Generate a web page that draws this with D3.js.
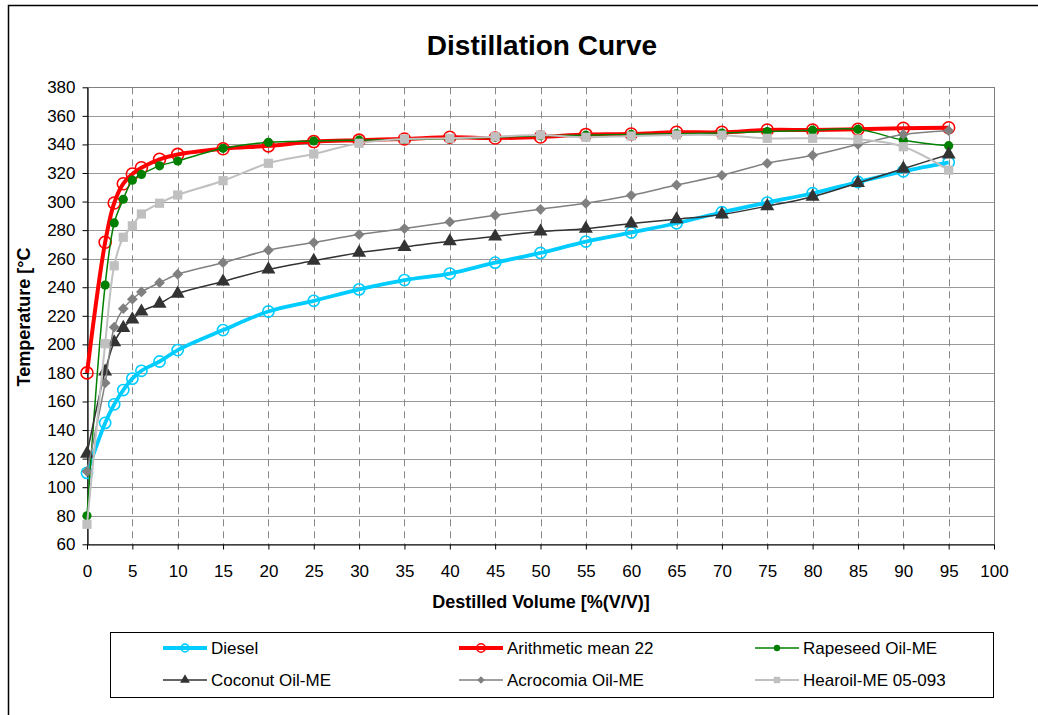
<!DOCTYPE html>
<html>
<head>
<meta charset="utf-8">
<script src="https://cdn.jsdelivr.net/npm/d3@7"></script>
<style>
body { margin: 0; background: #fff; }
text { font-family: Arial, "Liberation Sans", sans-serif; fill: #000; }
</style>
</head>
<body>
<div id="chart"></div>
<script>
// Distilled volume (x values, % V/V)
var volume = [0, 2, 3, 4, 5, 6, 8, 10, 15, 20, 25, 30, 35, 40, 45, 50, 55, 60, 65, 70, 75, 80, 85, 90, 95];

// Temperatures [°C] for each series
var diesel = [110, 145, 158, 168, 176, 181.5, 188, 196, 210, 223, 230.5, 238.5, 245, 249.6, 257.2, 264, 272, 278.3, 284.8, 292.5, 299.3, 305.8, 313.7, 321.2, 327.5];
var arithMean = [180, 271.5, 299, 312.5, 319.3, 323.7, 329.6, 333, 337, 339, 342, 343, 343.8, 345, 344.5, 345.2, 347, 347.3, 348.5, 348.5, 350.1, 350.1, 350.6, 351.3, 351.7];
var rapeseed = [80, 241.5, 285, 301.6, 315, 319, 325, 328.4, 337.3, 341.5, 342.4, 343, 343.5, 344, 345, 346, 346.5, 347, 347.5, 348, 349, 350, 350.6, 343, 339.1];
var coconut = [123.5, 181, 201.5, 211.5, 217.5, 223, 228.5, 235.5, 244, 252.5, 258.5, 264.2, 268.2, 272.2, 275.5, 279, 281, 284.6, 287.6, 291, 296.8, 303.4, 313, 323, 333];
var acrocomia = [111, 173, 212, 225, 231.6, 236.7, 243.2, 249.1, 257.2, 265.9, 271.3, 276.9, 281.1, 285.7, 290.4, 294.6, 298.8, 304.4, 311.6, 318.4, 326.8, 332.4, 340, 347, 349.6];
var hearoil = [74, 200.5, 255, 275, 283, 291.3, 298.8, 304.6, 314.6, 326.8, 333.3, 340.8, 343.8, 344.3, 345.4, 346.6, 345, 345.9, 346.6, 346.5, 344.3, 344.3, 343.6, 338.4, 322];

var seriesNames = ["Diesel", "Arithmetic mean 22", "Rapeseed Oil-ME", "Coconut Oil-ME", "Acrocomia Oil-ME", "Hearoil-ME 05-093"];

// Tick values
var xTicks = [0, 5, 10, 15, 20, 25, 30, 35, 40, 45, 50, 55, 60, 65, 70, 75, 80, 85, 90, 95, 100];
var yTicks = [60, 80, 100, 120, 140, 160, 180, 200, 220, 240, 260, 280, 300, 320, 340, 360, 380];

// Size of the picture and of the plot area
var w = 1038;
var h = 715;
var plotLeft = 87, plotRight = 994, plotTop = 87.3, plotBottom = 544.3;

var x = d3.scaleLinear().domain([0, 100]).range([plotLeft, plotRight]);
var y = d3.scaleLinear().domain([60, 380]).range([plotBottom, plotTop]);

// Styles of each series (same order as seriesNames)
var series = [
  { values: diesel,    color: "#00ccff", width: 3.8, marker: "circle",   fill: "none",    size: 5.6 },
  { values: arithMean, color: "#ff0000", width: 4,   marker: "circle",   fill: "none",    size: 6 },
  { values: rapeseed,  color: "#008000", width: 1.5, marker: "dot",      fill: "#008000", size: 4.6 },
  { values: coconut,   color: "#333333", width: 1.5, marker: "triangle", fill: "#333333", size: 85 },
  { values: acrocomia, color: "#808080", width: 1.5, marker: "diamond",  fill: "#808080", size: 58 },
  { values: hearoil,   color: "#c0c0c0", width: 2,   marker: "square",   fill: "#c0c0c0", size: 85 }
];
series.forEach(function(s, i) { s.name = seriesNames[i]; });

var svg = d3.select("#chart").append("svg")
    .attr("width", w)
    .attr("height", h);

svg.append("rect").attr("width", w).attr("height", h).attr("fill", "#fff");

// Outer chart border (runs off the picture on the right and bottom)
svg.append("rect")
    .attr("x", 8.5).attr("y", 5.5)
    .attr("width", 1200).attr("height", 900)
    .attr("fill", "none")
    .attr("stroke", "#000")
    .attr("stroke-width", 1.5);

// Title
svg.append("text")
    .attr("x", 542).attr("y", 55)
    .attr("text-anchor", "middle")
    .style("font-size", "28px")
    .style("font-weight", "bold")
    .text("Distillation Curve");

// Horizontal gridlines (solid)
svg.append("g").selectAll("line")
    .data(yTicks.slice(1))
    .enter().append("line")
    .attr("x1", plotLeft).attr("x2", plotRight)
    .attr("y1", function(d) { return Math.round(y(d)) + 0.5; })
    .attr("y2", function(d) { return Math.round(y(d)) + 0.5; })
    .attr("stroke", "#999")
    .attr("stroke-width", 1);

// Vertical gridlines (dashed)
svg.append("g").selectAll("line")
    .data(xTicks.slice(1, -1))
    .enter().append("line")
    .attr("x1", function(d) { return Math.round(x(d)) + 0.5; })
    .attr("x2", function(d) { return Math.round(x(d)) + 0.5; })
    .attr("y1", plotTop).attr("y2", plotBottom)
    .attr("stroke", "#888")
    .attr("stroke-dasharray", "7,5")
    .attr("stroke-width", 1);

// Plot area border
svg.append("rect")
    .attr("x", plotLeft + 0.5).attr("y", Math.round(plotTop) + 0.5)
    .attr("width", plotRight - plotLeft)
    .attr("height", plotBottom - plotTop)
    .attr("fill", "none")
    .attr("stroke", "#808080");

// Axes
var yAxis = svg.append("g")
    .attr("transform", "translate(" + (plotLeft + 0.5) + ",0)")
    .call(d3.axisLeft(y).tickValues(yTicks).tickSize(5).tickSizeOuter(0).tickPadding(7));
var xAxis = svg.append("g")
    .attr("transform", "translate(0," + (Math.round(plotBottom) + 0.5) + ")")
    .call(d3.axisBottom(x).tickValues(xTicks).tickSize(5).tickSizeOuter(0).tickPadding(15));

[xAxis, yAxis].forEach(function(a) {
  a.select(".domain").attr("stroke", "#000").attr("stroke-width", 1.2);
  a.selectAll(".tick line").attr("stroke", "#000");
  a.selectAll(".tick text")
    .attr("fill", "#000")
    .style("font-size", "17px")
    .style("font-family", "Arial, 'Liberation Sans', sans-serif");
});

// Axis titles
svg.append("text")
    .attr("transform", "translate(30,317) rotate(-90)")
    .attr("text-anchor", "middle")
    .style("font-size", "18px")
    .style("font-weight", "bold")
    .text("Temperature [°C");

svg.append("text")
    .attr("x", 541).attr("y", 608)
    .attr("text-anchor", "middle")
    .style("font-size", "18px")
    .style("font-weight", "bold")
    .text("Destilled Volume [%(V/V)]");

// Marker drawing helper
function drawMarker(sel, s, scale) {
  var k = scale || 1;
  if (s.marker === "circle" || s.marker === "dot") {
    sel.append("circle")
      .attr("r", s.size * k)
      .attr("fill", s.fill)
      .attr("stroke", s.color)
      .attr("stroke-width", s.marker === "circle" ? 1.6 : 0);
  } else if (s.marker === "triangle") {
    sel.append("path")
      .attr("d", d3.symbol().type(d3.symbolTriangle).size(s.size * k * k)())
      .attr("fill", s.fill);
  } else if (s.marker === "diamond") {
    sel.append("path")
      .attr("d", d3.symbol().type(d3.symbolSquare).size(s.size * k * k)())
      .attr("transform", "rotate(45)")
      .attr("fill", s.fill);
  } else {
    sel.append("path")
      .attr("d", d3.symbol().type(d3.symbolSquare).size(s.size * k * k)())
      .attr("fill", s.fill);
  }
}

// Smoothed lines, like the spreadsheet's smooth line option
var line = d3.line()
    .x(function(d) { return x(d[0]); })
    .y(function(d) { return y(d[1]); })
    .curve(d3.curveCatmullRom.alpha(0.5));

series.forEach(function(s) {
  var pts = volume.map(function(v, i) { return [v, s.values[i]]; });
  var g = svg.append("g");
  g.append("path")
    .datum(pts)
    .attr("d", line)
    .attr("fill", "none")
    .attr("stroke", s.color)
    .attr("stroke-width", s.width)
    .attr("stroke-linejoin", "round");
  g.selectAll("g.pt")
    .data(pts)
    .enter().append("g")
    .attr("class", "pt")
    .attr("transform", function(d) { return "translate(" + x(d[0]) + "," + y(d[1]) + ")"; })
    .each(function() { drawMarker(d3.select(this), s); });
});

// Legend
var legend = svg.append("g");
legend.append("rect")
    .attr("x", 110.5).attr("y", 632.5)
    .attr("width", 883).attr("height", 65)
    .attr("fill", "#fff")
    .attr("stroke", "#000")
    .attr("stroke-width", 1);

var legendCols = [163, 459, 755];
var legendRows = [648, 680];

series.forEach(function(s, i) {
  var lx = legendCols[i % 3];
  var ly = legendRows[Math.floor(i / 3)];
  var item = legend.append("g").attr("transform", "translate(" + lx + "," + ly + ")");
  item.append("line")
    .attr("x1", 0).attr("x2", 44)
    .attr("stroke", s.color)
    .attr("stroke-width", s.width);
  var m = item.append("g").attr("transform", "translate(22,0)");
  drawMarker(m, s, 0.7);
  item.append("text")
    .attr("x", 48).attr("dy", "0.35em")
    .style("font-size", "17px")
    .text(s.name);
});
</script>
</body>
</html>
